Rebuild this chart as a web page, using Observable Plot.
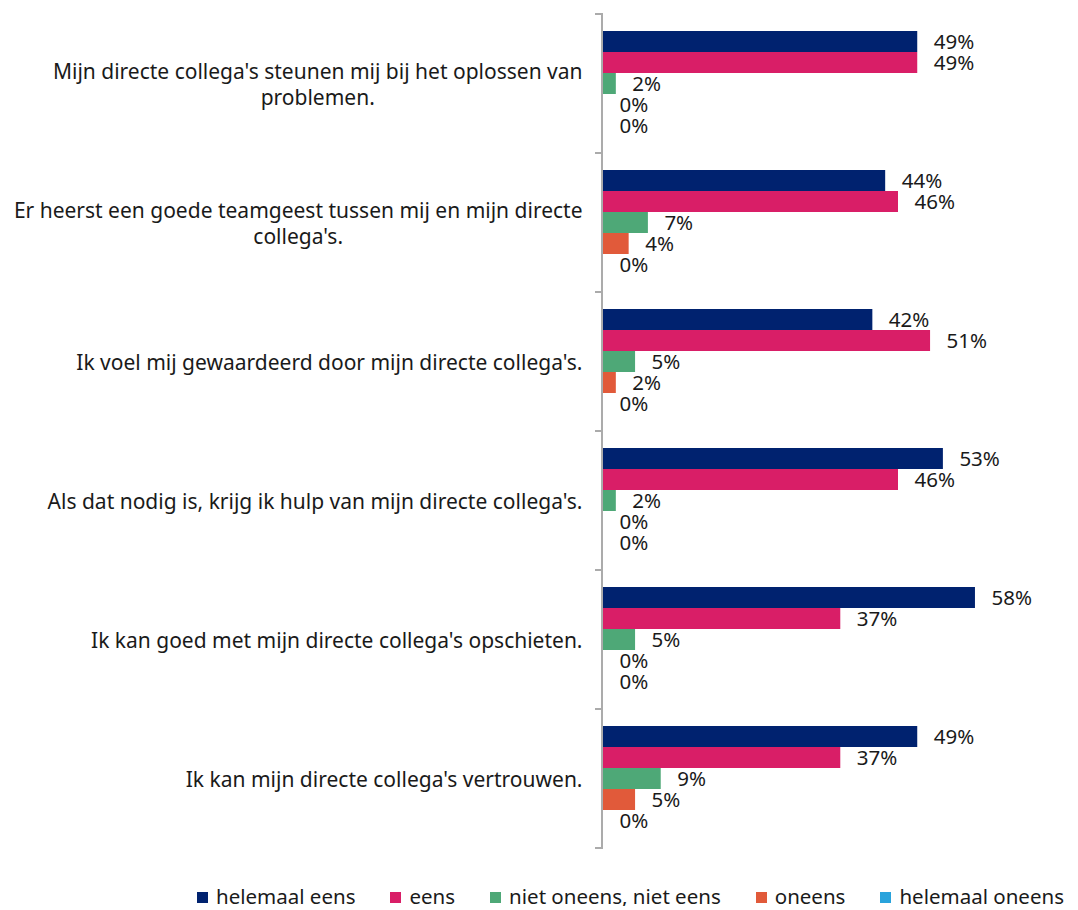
<!DOCTYPE html>
<html>
<head>
<meta charset="utf-8">
<script src="https://cdn.jsdelivr.net/npm/d3@7"></script>
<script src="https://cdn.jsdelivr.net/npm/@observablehq/plot@0.6"></script>
<style>
  body { margin: 0; background: #fff; font-family: "Noto Sans", sans-serif; color: #1a1a1a; }
  #chart svg { display: block; }
  #legend { display: flex; align-items: center; margin-left: 197px; margin-top: 24px; font-size: 20.5px; line-height: 20px; white-space: nowrap; }
  #legend .item { display: flex; align-items: center; margin-right: 35px; }
  #legend .sw { width: 11px; height: 11px; margin-right: 8px; margin-top: 2px; }
</style>
</head>
<body>
<div id="chart"></div>
<div id="legend"></div>
<script>
// ---- data ----
const questions = [
  "Mijn directe collega's steunen mij bij het oplossen van\nproblemen.",
  "Er heerst een goede teamgeest tussen mij en mijn directe\ncollega's.",
  "Ik voel mij gewaardeerd door mijn directe collega's.",
  "Als dat nodig is, krijg ik hulp van mijn directe collega's.",
  "Ik kan goed met mijn directe collega's opschieten.",
  "Ik kan mijn directe collega's vertrouwen."
];
const categories = ["helemaal eens", "eens", "niet oneens, niet eens", "oneens", "helemaal oneens"];
const colors = ["#00226f", "#d91e67", "#4ea877", "#e15a3a", "#29a3dc"];
const helemaalEens   = [49, 44, 42, 53, 58, 49];
const eens           = [49, 46, 51, 46, 37, 37];
const nietOneens     = [2, 7, 5, 2, 5, 9];
const oneens         = [0, 4, 2, 0, 0, 5];
const helemaalOneens = [0, 0, 0, 0, 0, 0];
const series = [helemaalEens, eens, nietOneens, oneens, helemaalOneens];

const rows = [];
questions.forEach((q, qi) => {
  categories.forEach((c, ci) => rows.push({question: q, cat: c, value: series[ci][qi]}));
});

const FONT = "Noto Sans";
const FS = 20.5;
const FS_AXIS = 21;

function axisDecor(index, scales) {
  const x0 = scales.x(0);
  const [y0, y1] = scales.y.range();
  const g = d3.create("svg:g").attr("stroke", "#ababab").attr("fill", "none");
  g.append("path").attr("stroke-width", 2)
    .attr("d", `M${x0 - 1},${y0}V${y1}`);
  g.append("path").attr("stroke-width", 2)
    .attr("d", `M${x0 - 8},${y0}H${x0}M${x0 - 8},${y1}H${x0}`);
  return g.node();
}

const plot = Plot.plot({
  width: 1078,
  height: 862,
  marginTop: 13,
  marginBottom: 14,
  marginLeft: 603,
  marginRight: 3,
  style: {fontFamily: FONT, fontSize: FS + "px", color: "#1a1a1a", background: "#fff"},
  x: {domain: [0, 73.6], axis: null},
  y: {domain: categories, paddingInner: 0, paddingOuter: 0.78, axis: null},
  fy: {domain: questions, padding: 0, axis: null},
  color: {domain: categories, range: colors},
  marks: [
    Plot.barX(rows, {x: "value", y: "cat", fy: "question", fill: "cat"}),
    Plot.text(rows, {x: "value", y: "cat", fy: "question", text: d => d.value + "%",
      textAnchor: "start", dx: 16, fill: "#1a1a1a", fontSize: FS}),
    axisDecor,
    Plot.axisFy({anchor: "left", tickSize: 0, tickPadding: 21, label: null,
      fontSize: FS_AXIS, lineHeight: 1.24, fill: "#1a1a1a"})
  ]
});

document.getElementById("chart").appendChild(plot);

// center multi-line question labels within their own block (right edge kept)
d3.select(plot).selectAll("text").each(function() {
  const tspans = this.querySelectorAll("tspan");
  if (tspans.length < 2) return;
  let w = 0;
  tspans.forEach(t => { w = Math.max(w, t.getComputedTextLength()); });
  this.setAttribute("text-anchor", "middle");
  tspans.forEach(t => {
    const x = parseFloat(t.getAttribute("x")) || 0;
    t.setAttribute("x", x - w / 2);
  });
});

// legend
const legend = d3.select("#legend");
categories.forEach((c, i) => {
  const it = legend.append("div").attr("class", "item");
  it.append("div").attr("class", "sw").style("background", colors[i]);
  it.append("span").text(c);
});
</script>
</body>
</html>
